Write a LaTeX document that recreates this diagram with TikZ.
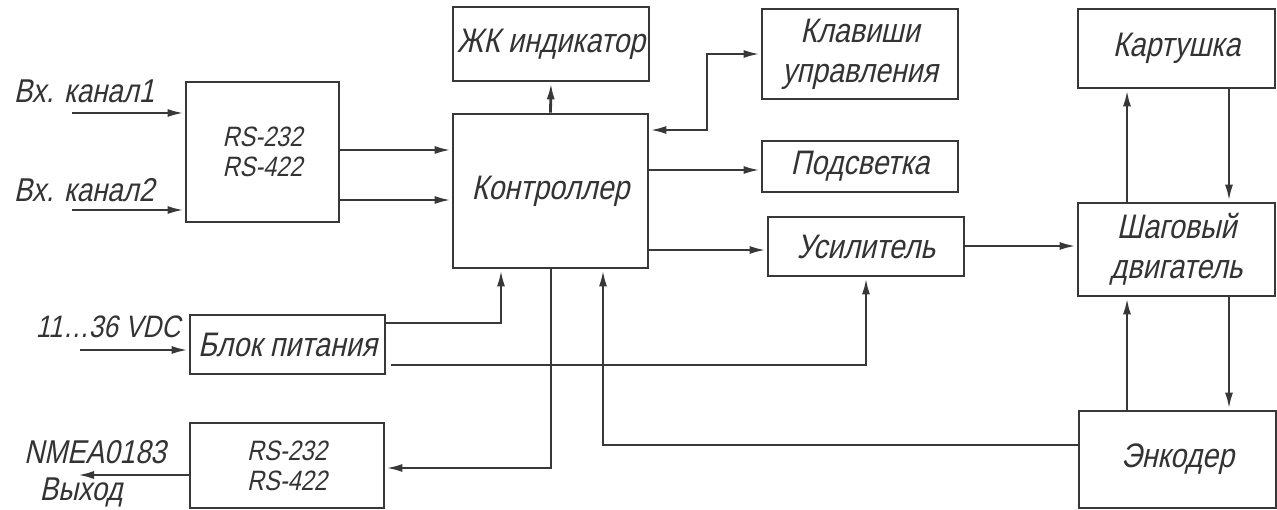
\documentclass[tikz,border=0pt]{standalone}
\usepackage{fontspec}
\newfontfamily\gost[FakeStretch=0.84,FakeSlant=0.22]{Liberation Sans}
\usetikzlibrary{arrows.meta}
\definecolor{ln}{HTML}{383838}
\definecolor{tx}{HTML}{333333}
\tikzset{
  box/.style={draw=ln, line width=2.8pt, rectangle, inner sep=0pt, text=tx, font=\gost\fontsize{34}{40}\selectfont, align=center},
  rsbox/.style={box, font=\gost\fontsize{28}{30}\selectfont},
  lbl/.style={inner sep=0pt, text=tx, font=\gost\fontsize{33}{40}\selectfont, anchor=base},
  wire/.style={draw=ln, line width=2.8pt},
  tip/.style={},
  arr/.style={wire, -{Latex[length=17pt,width=8pt]}},
  darr/.style={wire, {Latex[length=17pt,width=8pt]}-{Latex[length=17pt,width=8pt]}}
}
\begin{document}
\begin{tikzpicture}[x=1pt,y=-1pt]
\useasboundingbox (0,0) rectangle (1277,509);
% boxes
\node[rsbox, minimum width=153pt, minimum height=140pt] (rs1) at (262.5,152) {RS-232\\RS-422};
\node[box, minimum width=195pt, minimum height=154pt] (ctrl) at (550.5,191) {Контроллер};
\node[box, minimum width=196pt, minimum height=74pt] (lcd) at (551,44) {ЖК индикатор};
\node[box, minimum width=196pt, minimum height=90pt] (keys) at (860,54) {Клавиши\\управления};
\node[box, minimum width=196pt, minimum height=51pt] (light) at (860,166.5) {Подсветка};
\node[box, minimum width=196pt, minimum height=59pt] (amp) at (866,246.5) {Усилитель};
\node[box, minimum width=197pt, minimum height=79pt] (card) at (1176.5,48.5) {Картушка};
\node[box, minimum width=197pt, minimum height=93pt] (motor) at (1176.5,249.5) {Шаговый\\двигатель};
\node[box, minimum width=197pt, minimum height=97pt] (enc) at (1177.5,459.5) {Энкодер};
\node[box, minimum width=195pt, minimum height=59pt] (psu) at (287.5,344.5) {Блок питания};
\node[rsbox, minimum width=194pt, minimum height=85pt] (rs2) at (287,465.5) {RS-232\\RS-422};
% labels
\node[lbl] (l1) at (84,102) {Вх. канал1};
\node[lbl] (l2) at (84,201) {Вх. канал2};
\node[lbl, font=\gost\fontsize{31}{40}\selectfont] (lv) at (108,337) {11…36 VDC};
\node[lbl] (ln1) at (95,463) {NMEA0183};
\node[lbl] (ln2) at (81,500) {Выход};
% free ends
\coordinate (in1) at (72,113);
\coordinate (in2) at (72,210);
\coordinate (vdc) at (80,350);
\coordinate (nout) at (77,475);
% inputs
\draw[arr] (in1) -- (in1 -| rs1.west);
\draw[arr] (in2) -- (in2 -| rs1.west);
\draw[arr] (vdc) -- (vdc -| psu.west);
\draw[arr] (rs2.west |- nout) -- (nout);
% rs1 to ctrl
\coordinate (r1a) at (339,150);
\coordinate (r1b) at (339,200);
\draw[arr] (r1a -| rs1.east) -- (r1a -| ctrl.west);
\draw[arr] (r1b -| rs1.east) -- (r1b -| ctrl.west);
% ctrl to lcd
\draw[arr] (ctrl.north) -- (lcd.south);
% ctrl <-> keys
\coordinate (kb) at (707,130);
\draw[darr] (kb -| ctrl.east) -- (kb) |- (keys.west);
% ctrl to light
\coordinate (lt) at (700,170);
\draw[arr] (lt -| ctrl.east) -- (lt -| light.west);
% ctrl to amp
\coordinate (am) at (700,250);
\draw[arr] (am -| ctrl.east) -- (am -| amp.west);
% amp to motor
\coordinate (mm) at (1000,246);
\draw[arr] (mm -| amp.east) -- (mm -| motor.west);
% motor <-> card, encoder
\coordinate (xl) at (1127,0);
\coordinate (xr) at (1229,0);
\draw[arr] (xl |- motor.north) -- (xl |- card.south);
\draw[arr] (xr |- card.south) -- (xr |- motor.north);
\draw[arr] (xl |- enc.north) -- (xl |- motor.south);
\draw[arr] (xr |- motor.south) -- (xr |- enc.north);
% psu to ctrl
\coordinate (p1) at (501,323);
\draw[arr] (p1 -| psu.east) -- (p1) -- (p1 |- ctrl.south);
% psu to amp
\coordinate (p2) at (866,365);
\draw[arr] ([xshift=5pt]p2 -| psu.east) -- (p2) -- (p2 |- amp.south);
% ctrl to rs2
\coordinate (c2) at (551,468);
\draw[arr] (c2 |- ctrl.south) -- (c2) -- (c2 -| rs2.east);
% enc to ctrl
\coordinate (e1) at (603,445);
\draw[arr] (e1 -| enc.west) -- (e1) -- (e1 |- ctrl.south);
\end{tikzpicture}
\end{document}
